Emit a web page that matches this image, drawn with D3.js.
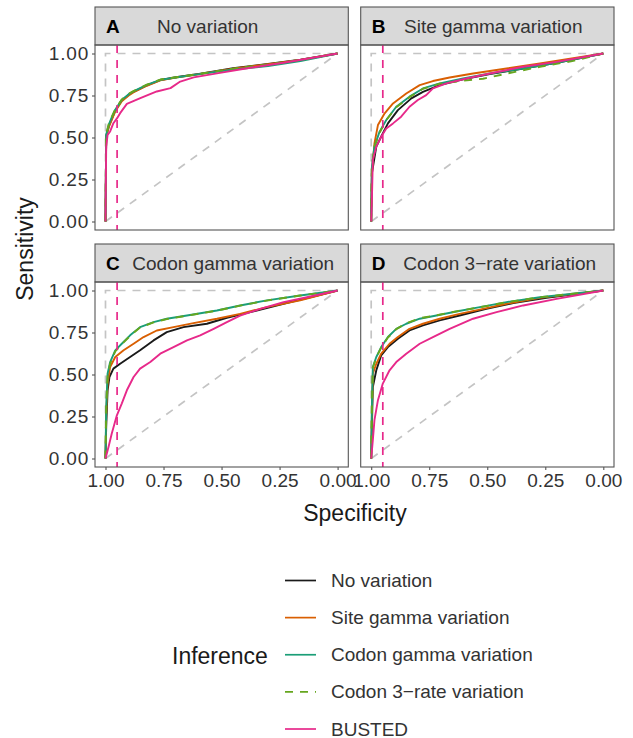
<!DOCTYPE html>
<html><head><meta charset="utf-8">
<script src="https://cdn.jsdelivr.net/npm/d3@7"></script>
<style>body{margin:0;background:#fff} svg{display:block;font-family:"Liberation Sans",Arial,Helvetica,sans-serif}</style>
</head><body><svg id="c" width="633" height="738"></svg>
<script>
// ---------- data ----------
const panelLetters = ["A", "B", "C", "D"];
const panelTitles = ["No variation", "Site gamma variation", "Codon gamma variation", "Codon 3\u2212rate variation"];
const seriesNames = ["No variation", "Site gamma variation", "Codon gamma variation", "Codon 3\u2212rate variation", "BUSTED"];
const seriesColors = ["#1a1a1a", "#D95F02", "#1B9E77", "#66A61E", "#E7298A"];
const seriesDashed = [false, false, false, true, false];
const xTicks = [1, 0.75, 0.5, 0.25, 0];
const yTicks = [0, 0.25, 0.5, 0.75, 1];
const thresholdSpec = 0.95;

// ROC points: [specificity, sensitivity]
const A_none = [[1,0],[0.997,0.51],[0.985,0.57],[0.97,0.62],[0.958,0.66],[0.93,0.72],[0.9,0.755],[0.88,0.772],[0.822,0.81],[0.764,0.842],[0.69,0.86],[0.59,0.88],[0.45,0.912],[0.3,0.938],[0.16,0.963],[0,1]];
const A_site = [[1,0],[0.997,0.50],[0.985,0.565],[0.97,0.615],[0.958,0.655],[0.93,0.716],[0.9,0.75],[0.88,0.768],[0.822,0.808],[0.764,0.84],[0.69,0.858],[0.59,0.878],[0.45,0.91],[0.3,0.936],[0.16,0.962],[0,1]];
const A_codon = [[1,0],[0.997,0.516],[0.985,0.58],[0.97,0.63],[0.958,0.665],[0.93,0.724],[0.9,0.758],[0.88,0.774],[0.822,0.813],[0.764,0.843],[0.69,0.859],[0.59,0.879],[0.448,0.905],[0.3,0.925],[0.16,0.955],[0,1]];
const A_three = [[1,0],[0.997,0.52],[0.985,0.585],[0.97,0.632],[0.958,0.668],[0.93,0.726],[0.9,0.76],[0.88,0.776],[0.822,0.815],[0.764,0.845],[0.69,0.86],[0.59,0.88],[0.45,0.91],[0.3,0.935],[0.16,0.962],[0,1]];
const A_busted = [[1,0],[0.997,0.446],[0.991,0.516],[0.98,0.536],[0.966,0.585],[0.95,0.615],[0.937,0.645],[0.908,0.70],[0.85,0.734],[0.779,0.774],[0.72,0.794],[0.678,0.833],[0.62,0.858],[0.52,0.882],[0.376,0.915],[0.233,0.945],[0,1]];

const B_none = [[1,0],[0.997,0.287],[0.978,0.446],[0.957,0.505],[0.928,0.584],[0.885,0.663],[0.827,0.733],[0.777,0.772],[0.705,0.812],[0.604,0.846],[0.489,0.877],[0.345,0.911],[0.201,0.945],[0,1]];
const B_site = [[1,0],[0.997,0.287],[0.986,0.465],[0.971,0.574],[0.942,0.644],[0.906,0.703],[0.849,0.762],[0.791,0.812],[0.734,0.836],[0.662,0.857],[0.561,0.881],[0.417,0.911],[0.273,0.941],[0,1]];
const B_codon = [[1,0],[0.997,0.327],[0.986,0.446],[0.964,0.535],[0.935,0.604],[0.892,0.683],[0.835,0.743],[0.777,0.792],[0.705,0.822],[0.604,0.851],[0.489,0.881],[0.345,0.911],[0.201,0.945],[0,1]];
const B_three = [[1,0],[0.997,0.327],[0.986,0.446],[0.964,0.527],[0.935,0.604],[0.892,0.68],[0.835,0.74],[0.777,0.79],[0.705,0.82],[0.604,0.838],[0.518,0.85],[0.417,0.88],[0.273,0.921],[0.129,0.956],[0,1]];
const B_busted = [[1,0],[0.997,0.129],[0.993,0.366],[0.978,0.446],[0.957,0.505],[0.935,0.554],[0.906,0.584],[0.871,0.624],[0.835,0.683],[0.799,0.723],[0.763,0.752],[0.734,0.792],[0.676,0.822],[0.59,0.851],[0.489,0.881],[0.345,0.921],[0.201,0.95],[0,1]];

const C_none = [[1,0],[0.997,0.188],[0.991,0.406],[0.983,0.485],[0.966,0.535],[0.937,0.564],[0.894,0.604],[0.851,0.644],[0.793,0.703],[0.736,0.752],[0.664,0.782],[0.563,0.802],[0.477,0.838],[0.376,0.871],[0.233,0.921],[0,1]];
const C_site = [[1,0],[0.997,0.267],[0.991,0.446],[0.98,0.545],[0.958,0.604],[0.922,0.644],[0.879,0.683],[0.836,0.723],[0.779,0.762],[0.707,0.782],[0.621,0.806],[0.52,0.832],[0.42,0.861],[0.305,0.901],[0.161,0.941],[0,1]];
const C_codon = [[1,0],[0.997,0.307],[0.991,0.505],[0.98,0.574],[0.958,0.644],[0.93,0.683],[0.894,0.733],[0.851,0.782],[0.793,0.812],[0.736,0.832],[0.649,0.851],[0.52,0.881],[0.42,0.911],[0.305,0.941],[0.161,0.97],[0,1]];
const C_three = [[1,0],[0.997,0.3],[0.991,0.49],[0.98,0.565],[0.958,0.638],[0.93,0.68],[0.894,0.73],[0.851,0.78],[0.793,0.81],[0.736,0.83],[0.649,0.85],[0.52,0.88],[0.42,0.91],[0.305,0.94],[0.161,0.97],[0,1]];
const C_busted = [[1,0],[0.987,0.069],[0.973,0.149],[0.951,0.257],[0.93,0.327],[0.908,0.406],[0.879,0.485],[0.851,0.535],[0.807,0.574],[0.764,0.624],[0.707,0.663],[0.649,0.703],[0.592,0.733],[0.534,0.772],[0.477,0.812],[0.42,0.851],[0.333,0.891],[0.233,0.931],[0.132,0.96],[0,1]];

const D_none = [[1,0],[0.997,0.188],[0.993,0.426],[0.978,0.525],[0.957,0.614],[0.928,0.663],[0.885,0.713],[0.835,0.762],[0.777,0.792],[0.705,0.822],[0.619,0.851],[0.504,0.891],[0.388,0.925],[0.245,0.956],[0,1]];
const D_site = [[1,0],[0.997,0.267],[0.993,0.505],[0.978,0.564],[0.957,0.624],[0.921,0.683],[0.885,0.723],[0.835,0.772],[0.777,0.802],[0.705,0.832],[0.619,0.861],[0.518,0.891],[0.417,0.921],[0.273,0.956],[0,1]];
const D_codon = [[1,0],[0.997,0.307],[0.993,0.545],[0.978,0.604],[0.957,0.663],[0.928,0.723],[0.892,0.772],[0.849,0.802],[0.791,0.832],[0.719,0.851],[0.633,0.875],[0.532,0.901],[0.417,0.931],[0.273,0.96],[0,1]];
const D_three = [[1,0],[0.997,0.3],[0.993,0.54],[0.978,0.6],[0.957,0.66],[0.928,0.72],[0.892,0.77],[0.849,0.805],[0.791,0.835],[0.719,0.852],[0.633,0.876],[0.532,0.9],[0.417,0.93],[0.273,0.96],[0,1]];
const D_busted = [[1,0],[0.993,0.109],[0.986,0.228],[0.971,0.347],[0.95,0.446],[0.921,0.525],[0.892,0.574],[0.849,0.624],[0.791,0.683],[0.734,0.723],[0.662,0.772],[0.561,0.832],[0.46,0.871],[0.345,0.911],[0.201,0.95],[0,1]];

const panelSeries = [
  [A_none, A_site, A_codon, A_three, A_busted],
  [B_none, B_site, B_codon, B_three, B_busted],
  [C_none, C_site, C_codon, C_three, C_busted],
  [D_none, D_site, D_codon, D_three, D_busted]
];
const perfectRoc = [[1,0],[1,1],[0,1]];
const chanceRoc = [[1,0],[0,1]];

// ---------- layout ----------
const layout = {
  panelX: [95, 360.7], panelW: 253.3,
  stripTop: [7, 244], stripH: 38, plotH: 185,
  stripTextOffset: [62, 43.3, 37.3, 42.6]
};
const textCol = "#333333", borderCol = "#555555", refCol = "#c4c4c4";
const lw = 1.9;

const svg = d3.select("#c");
const defs = svg.append("defs");

panelLetters.forEach((letter, i) => {
  const col = i % 2, row = Math.floor(i / 2);
  const pl = layout.panelX[col], st = layout.stripTop[row];
  const pt = st + layout.stripH, pw = layout.panelW, ph = layout.plotH;
  const x = d3.scaleLinear().domain([1, 0]).range([pl + 10.5, pl + pw - 10.7]);
  const y = d3.scaleLinear().domain([0, 1]).range([pt + ph - 8.5, pt + 8.5]);
  const g = svg.append("g");

  // strip
  g.append("rect").attr("x", pl).attr("y", st).attr("width", pw).attr("height", layout.stripH)
    .attr("fill", "#d9d9d9").attr("stroke", borderCol).attr("stroke-width", 1.1);
  g.append("text").attr("x", pl + 11).attr("y", st + 26).attr("font-size", 19).attr("font-weight", "bold")
    .attr("fill", "#000").text(letter);
  g.append("text").attr("x", pl + layout.stripTextOffset[i]).attr("y", st + 26).attr("font-size", 19)
    .attr("fill", textCol).text(panelTitles[i]);

  // clip
  const cid = "clip" + i;
  defs.append("clipPath").attr("id", cid).append("rect").attr("x", pl).attr("y", pt).attr("width", pw).attr("height", ph);
  const pg = g.append("g").attr("clip-path", `url(#${cid})`);

  const line = d3.line().x(d => x(d[0])).y(d => y(d[1]));
  // reference lines
  pg.append("path").attr("d", line(perfectRoc)).attr("fill", "none").attr("stroke", refCol)
    .attr("stroke-width", 1.7).attr("stroke-dasharray", "8,7");
  pg.append("path").attr("d", line(chanceRoc)).attr("fill", "none").attr("stroke", refCol)
    .attr("stroke-width", 1.7).attr("stroke-dasharray", "8,7");

  // series
  panelSeries[i].forEach((pts, s) => {
    pg.append("path").attr("d", line(pts)).attr("fill", "none").attr("stroke", seriesColors[s])
      .attr("stroke-width", lw).attr("stroke-linejoin", "round")
      .attr("stroke-dasharray", seriesDashed[s] ? "8,7" : null);
  });
  // threshold
  pg.append("line").attr("x1", x(thresholdSpec)).attr("x2", x(thresholdSpec)).attr("y1", pt).attr("y2", pt + ph)
    .attr("stroke", "#E7298A").attr("stroke-width", 1.7).attr("stroke-dasharray", "8,7");

  // panel border
  g.append("rect").attr("x", pl).attr("y", pt).attr("width", pw).attr("height", ph)
    .attr("fill", "none").attr("stroke", borderCol).attr("stroke-width", 1.1);

  // axes
  if (col === 0) {
    const ya = g.append("g").attr("transform", `translate(${pl},0)`)
      .call(d3.axisLeft(y).tickValues(yTicks).tickFormat(d3.format(".2f")).tickSize(3).tickPadding(3));
    ya.select(".domain").remove();
    ya.selectAll("line").attr("stroke", borderCol).attr("stroke-width", 1.1);
    ya.selectAll("text").attr("font-size", 19).attr("fill", textCol).attr("font-family", null)
      .attr("letter-spacing", 0.8);
  }
  if (row === 1) {
    const xa = g.append("g").attr("transform", `translate(0,${pt + ph})`)
      .call(d3.axisBottom(x).tickValues(xTicks).tickFormat(d3.format(".2f")).tickSize(3).tickPadding(4));
    xa.select(".domain").remove();
    xa.selectAll("line").attr("stroke", borderCol).attr("stroke-width", 1.1);
    xa.selectAll("text").attr("font-size", 19).attr("fill", textCol).attr("font-family", null);
  }
});

// axis titles
svg.append("text").attr("x", 355).attr("y", 521).attr("text-anchor", "middle")
  .attr("font-size", 23).attr("fill", "#1a1a1a").text("Specificity");
svg.append("text").attr("transform", "translate(33,249) rotate(-90)").attr("text-anchor", "middle")
  .attr("font-size", 23).attr("fill", "#1a1a1a").text("Sensitivity");

// legend
const legY = d3.scalePoint().domain(seriesNames).range([580.5, 729]);
svg.append("text").attr("x", 172).attr("y", 664).attr("font-size", 23).attr("fill", "#1a1a1a").text("Inference");
const lg = svg.append("g");
seriesNames.forEach((n, s) => {
  const yy = legY(n);
  lg.append("line").attr("x1", 285).attr("x2", 316).attr("y1", yy).attr("y2", yy)
    .attr("stroke", seriesColors[s]).attr("stroke-width", 1.7)
    .attr("stroke-dasharray", seriesDashed[s] ? "8,7" : null);
  lg.append("text").attr("x", 331).attr("y", yy + 6.5).attr("font-size", 19).attr("fill", textCol).text(n);
});
</script></body></html>
